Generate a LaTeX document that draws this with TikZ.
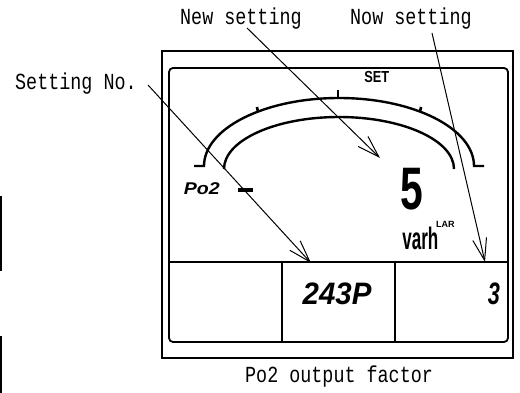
\documentclass[tikz,border=0pt]{standalone}
\usepackage{graphicx}
\usepackage{fontspec}
\setmainfont{Liberation Sans}
\newfontfamily\lblfont{Liberation Mono}
\usetikzlibrary{arrows.meta}
\newcommand\mylbl[1]{\scalebox{0.8}[1]{\lblfont\fontsize{23}{23}\selectfont #1}}
\newcommand\lcd[4]{\scalebox{#1}[1]{\fontsize{#2}{#2}\selectfont#3 #4}}
\begin{document}
\begin{tikzpicture}[x=1pt,y=-1pt,
  frame/.style={line width=1.8pt},
  arcline/.style={line width=2.4pt},
  tick/.style={line width=2.6pt},
  arr/.style={line width=1pt,-{Straight Barb[length=22pt,width=14pt,line width=1pt]}},
  lbl/.style={inner sep=0pt,anchor=base west},
  seg/.style={inner sep=0pt,anchor=base}]
\useasboundingbox (0,0) rectangle (520,393);
% cut-off neighbours at the left edge
\draw[line width=1.6pt] (-10,197) -| (1,270) -- (-10,270);
\draw[line width=1.6pt] (-10,337) -| (1,400);
% frames
\draw[frame] (162,51) rectangle (513,358);
\draw[frame,rounded corners=4pt] (169,68) rectangle (508,342);
\draw[frame] (169,262) -- (508,262);
\draw[frame] (282,262) -- (282,342);
\draw[frame] (395,262) -- (395,342);
% arcs
\draw[arcline] (194,166) -- (204,166) arc[start angle=180,end angle=360,x radius=135,y radius=68] -- (484,166);
\draw[arcline] (224,169) arc[start angle=180,end angle=360,x radius=115,y radius=52];
\draw[tick] (338,99) -- (338,90);
\draw[tick] (258,112) -- (257,107);
\draw[tick] (420,112) -- (421,107);
% LCD texts
\node[seg] (set) at (375,83) {\lcd{0.8}{16}{\bfseries}{SET}};
\node[seg] (po2) at (199,195) {\lcd{1.15}{17}{\bfseries\itshape}{Po2}};
\draw[line width=3.5pt] (238,190) -- (253,190);
\node[seg] (five) at (406,210) {\lcd{0.68}{60}{\bfseries}{5}};
\node[seg] (varh) at (418,250) {\lcd{0.55}{31}{\bfseries}{varh}};
\node[seg] (lar) at (444,228) {\lcd{1}{9}{\bfseries}{LAR}};
\node[seg] (no) at (333,305) {\lcd{0.95}{31}{\bfseries\itshape}{243P}};
\node[seg] (now) at (491,305) {\lcd{0.7}{31}{\bfseries\itshape}{3}};
% labels
\node[lbl] (newlbl) at (180,25) {\mylbl{New setting}};
\node[lbl] (nowlbl) at (350,25) {\mylbl{Now setting}};
\node[lbl] (setlbl) at (15,90) {\mylbl{Setting No.}};
\node[lbl] (caption) at (245,382) {\mylbl{Po2 output factor}};
% arrows
\coordinate (newstart) at (247,28);
\coordinate (newtip) at (380,158);
\coordinate (setstart) at (148,85);
\coordinate (settip) at (311,263);
\coordinate (nowstart) at (432,33);
\coordinate (nowtip) at (485,262);
\draw[arr] (newstart) -- (newtip);
\draw[arr] (setstart) -- (settip);
\draw[arr] (nowstart) -- (nowtip);
\end{tikzpicture}
\end{document}
